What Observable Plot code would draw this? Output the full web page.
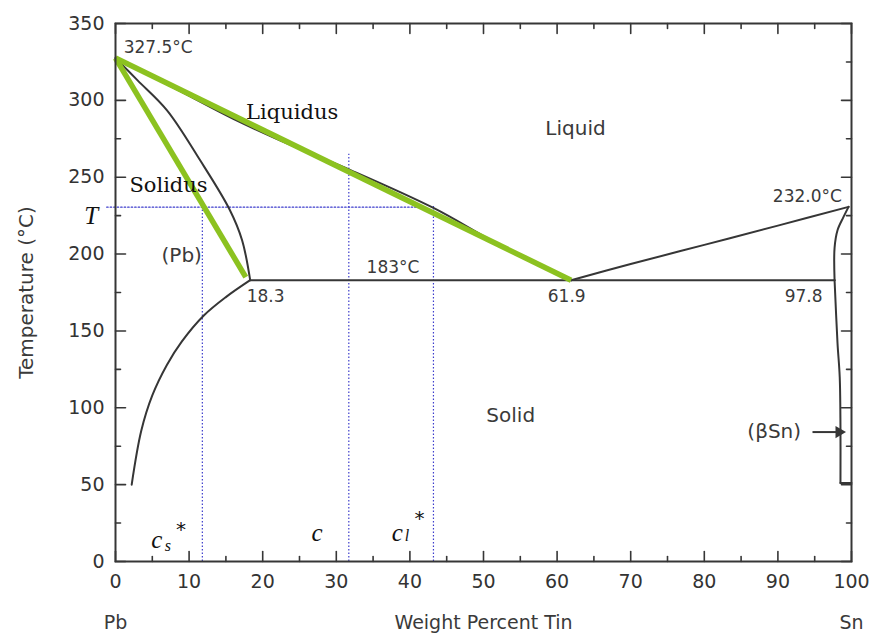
<!DOCTYPE html>
<html><head><meta charset="utf-8">
<script src="https://cdn.jsdelivr.net/npm/d3@7"></script>
<script src="https://cdn.jsdelivr.net/npm/@observablehq/plot@0.6"></script>
<style>body{margin:0;background:#fff}</style>
</head><body><div id="chart"></div>
<script>
// ---- phase boundaries (wt% Sn, °C) ----
const liquidusPbX = [0, 8, 16, 24, 32, 43.2, 52, 61.9];
const liquidusPbT = [327.5, 308, 288, 270.5, 254.5, 230, 206.5, 183];
const solidusPbX = [0, 3, 7, 11.5, 15.5, 17.2, 18.3];
const solidusPbT = [327.5, 313, 293.5, 261, 229, 209, 183];
const solvusPbX = [18.3, 15, 12, 9, 7, 5, 3.5, 2.2];
const solvusPbT = [183, 172, 160, 143, 128, 108, 85, 50];
const liquidusSnX = [61.9, 70, 80, 90, 99.6];
const liquidusSnT = [183, 193.5, 206, 218.5, 230.7];
const solidusSnX = [99.6, 98.9, 98.1, 97.7, 97.7];
const solidusSnT = [230.7, 224, 215.5, 204, 183];
const solvusSnX = [97.7, 98.1, 98.4, 98.5, 98.5];
const solvusSnT = [183, 142, 120, 88, 51];
const closeSnX = [98.5, 100];
const closeSnT = [51, 51];
const eutecticX = [18.3, 97.7];
const eutecticT = [183, 183];
// green straight-line approximations
const greenLiqX = [0, 61.9];
const greenLiqT = [327.5, 183];
const greenSolX = [0, 17.7];
const greenSolT = [327.5, 185];
// construction lines at temperature T
const tempT = 230.5;
const tLineX = [-1.2, 41.5];
const compX = [11.8, 31.7, 43.2];      // c_s*, c, c_l*
const compTop = [230.5, 265, 232];
// ticks
const xMajor = [0, 10, 20, 30, 40, 50, 60, 70, 80, 90, 100];
const xMinor = [5, 15, 25, 35, 45, 55, 65, 75, 85, 95];
const yMajor = [0, 50, 100, 150, 200, 250, 300, 350];
const yMinor = [25, 75, 125, 175, 225, 275, 325];
// annotations
const smallLabels = ["327.5°C", "183°C", "18.3", "61.9", "97.8", "232.0°C"];
const smallX = [5.8, 37.7, 20.4, 61.3, 93.5, 94.0];
const smallT = [334.6, 191.4, 172.5, 172.5, 172.5, 237.6];
const regionLabels = ["Liquid", "Solid", "(Pb)", "(βSn)"];
const regionX = [62.5, 53.7, 9.0, 89.5];
const regionT = [281.9, 95, 199.2, 84.2];
const serifLabels = ["Liquidus", "Solidus"];
const serifX = [24.0, 7.2];
const serifT = [292.3, 244.8];
const cLetters = ["c", "c", "c"];
const cX = [5.6, 27.4, 38.3];
const cT = [13.7, 18.6, 18.6];
const subLetters = ["s", "l"];
const subX = [7.1, 39.6];
const subT = [10.4, 16.7];
const starX = [8.9, 41.3];
const starT = [20.6, 27.8];
const arrowX = [94.7, 98.3];
const arrowT = [84.2, 84.2];
const axisWords = ["Pb", "Weight Percent Tin", "Sn"];
const axisWordX = [0, 50, 100];

const pts = (xs, ts) => xs.map((x, i) => ({x, t: ts[i]}));
const ink = "#363636";
const green = "#8cc220";
const blue = "#3d3dcc";
const tickShape = {draw(ctx, l) { ctx.moveTo(0, 0); ctx.lineTo(0, -l); }};
const ticks = (vals, along, fixed, rot, len) => Plot.vector(vals, {
  [along]: d => d, [along === "x" ? "y" : "x"]: () => fixed,
  length: len, rotate: rot, anchor: "start", shape: tickShape, stroke: ink, strokeWidth: 1.6
});
const blackLine = (xs, ts, curve = "catmull-rom") =>
  Plot.line(pts(xs, ts), {x: "x", y: "t", curve, stroke: ink, strokeWidth: 2});

const chart = Plot.plot({
  width: 876, height: 635,
  marginLeft: 115, marginRight: 25, marginTop: 23, marginBottom: 74,
  x: {domain: [0, 100]},
  y: {domain: [0, 350]},
  style: {fontFamily: "DejaVu Sans", fontSize: "19px", color: "#333", background: "white"},
  marks: [
    Plot.axisX({ticks: xMajor, tickSize: 0, tickPadding: 13, fontSize: 19, tickFormat: d => d, label: null}),
    Plot.axisY({ticks: yMajor, tickSize: 0, tickPadding: 11, fontSize: 19, tickFormat: d => d, label: null}),
    // ticks pointing inward on all four sides
    ticks(xMajor, "x", 0, 0, 10), ticks(xMinor, "x", 0, 0, 5),
    ticks(xMajor, "x", 350, 180, 10), ticks(xMinor, "x", 350, 180, 5),
    ticks(yMajor, "y", 0, 90, 10), ticks(yMinor, "y", 0, 90, 5),
    ticks(yMajor, "y", 100, 270, 10), ticks(yMinor, "y", 100, 270, 5),
    // dotted construction lines
    Plot.line(pts(tLineX, [tempT, tempT]), {x: "x", y: "t", stroke: blue, strokeWidth: 1.2, strokeDasharray: "1.5,2"}),
    Plot.ruleX(compX, {x: d => d, y1: () => 0, y2: (d, i) => compTop[i], stroke: blue, strokeWidth: 1.2, strokeDasharray: "1.5,2"}),
    // phase boundaries
    blackLine(liquidusPbX, liquidusPbT),
    blackLine(solidusPbX, solidusPbT),
    blackLine(solvusPbX, solvusPbT),
    blackLine(liquidusSnX, liquidusSnT),
    blackLine(solidusSnX, solidusSnT),
    blackLine(solvusSnX, solvusSnT),
    blackLine(closeSnX, closeSnT, "linear"),
    blackLine(eutecticX, eutecticT, "linear"),
    // green overlays
    Plot.line(pts(greenLiqX, greenLiqT), {x: "x", y: "t", stroke: green, strokeWidth: 5.5, strokeLinecap: "butt"}),
    Plot.line(pts(greenSolX, greenSolT), {x: "x", y: "t", stroke: green, strokeWidth: 5.5, strokeLinecap: "butt"}),
    Plot.frame({stroke: ink, strokeWidth: 2}),
    // arrow to (βSn)
    Plot.link([0], {x1: () => arrowX[0], x2: () => arrowX[1], y1: () => arrowT[0], y2: () => arrowT[1], stroke: ink, strokeWidth: 2}),
    Plot.dot([0], {x: () => arrowX[1], y: () => arrowT[1], symbol: "triangle", rotate: 90, r: 4.5, fill: ink, stroke: null}),
    // annotations
    Plot.text(smallLabels, {x: smallX, y: smallT, text: d => d, fontSize: 17, fill: "#3a3a3a"}),
    Plot.text(regionLabels, {x: regionX, y: regionT, text: d => d, fontSize: 20, fill: "#3a3a3a"}),
    Plot.text(serifLabels, {x: serifX, y: serifT, text: d => d, fontSize: 21, fontFamily: "DejaVu Serif", fill: "#111"}),
    Plot.text(["T"], {x: [-3.3], y: [224.6], text: d => d, fontSize: 25, fontFamily: "Liberation Serif", fontStyle: "italic", fill: "#111"}),
    Plot.text(cLetters, {x: cX, y: cT, text: d => d, fontSize: 25, fontFamily: "Liberation Serif", fontStyle: "italic", fill: "#111"}),
    Plot.text(subLetters, {x: subX, y: subT, text: d => d, fontSize: 16, fontFamily: "Liberation Serif", fontStyle: "italic", fill: "#111"}),
    Plot.text(["*", "*"], {x: starX, y: starT, text: d => d, fontSize: 20, fontFamily: "DejaVu Sans", fill: "#111"}),
    // axis titles
    Plot.text(axisWords, {x: axisWordX, y: () => 0, dy: 61, text: d => d, fontSize: 19, fill: "#3a3a3a"}),
    Plot.text(["Temperature (°C)"], {x: [-12.1], y: [175], rotate: -90, text: d => d, fontSize: 20, fill: "#3a3a3a"})
  ]
});
document.getElementById("chart").appendChild(chart);
</script>
</body></html>
